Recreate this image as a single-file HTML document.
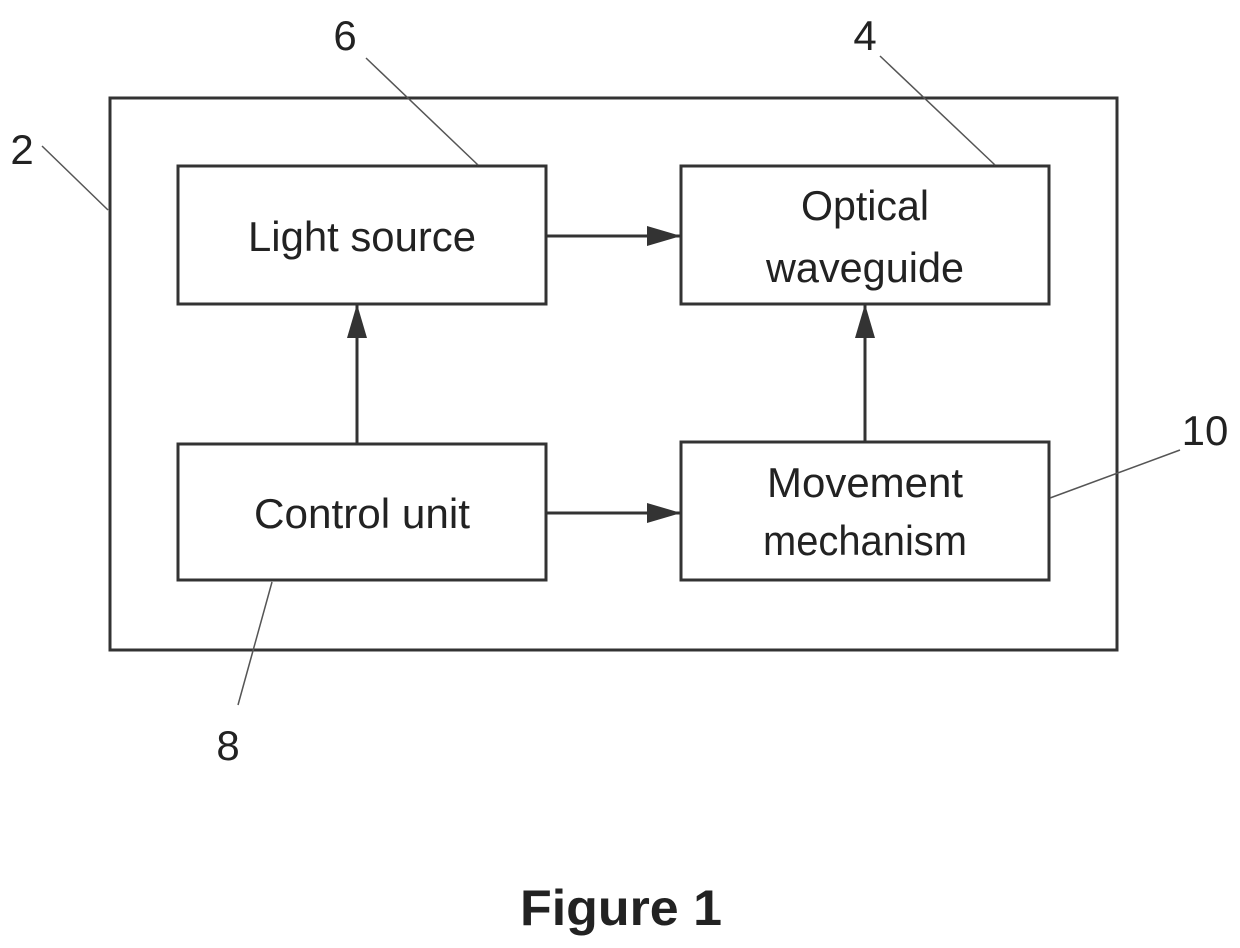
<!DOCTYPE html>
<html><head><style>
html,body{margin:0;padding:0;background:#fff;}
svg{display:block;}
text{font-family:"Liberation Sans",Arial,sans-serif;fill:#222;}
</style></head><body>
<svg width="1240" height="948" viewBox="0 0 1240 948" xmlns="http://www.w3.org/2000/svg">
<defs>
<marker id="b" viewBox="0 0 34 20" markerWidth="34" markerHeight="20" refX="34" refY="10" orient="auto" markerUnits="userSpaceOnUse"><path d="M0,0 L34,10 L0,20 z" fill="#333"/></marker></defs>
<g stroke="#333" stroke-width="3" fill="none">
<rect x="110" y="98" width="1007" height="552"/>
<rect x="178" y="166" width="368" height="138"/>
<rect x="681" y="166" width="368" height="138"/>
<rect x="178" y="444" width="368" height="136"/>
<rect x="681" y="442" width="368" height="138"/>
<line x1="546" y1="236" x2="681" y2="236" marker-end="url(#b)"/>
<line x1="546" y1="513" x2="681" y2="513" marker-end="url(#b)"/>
<line x1="357" y1="444" x2="357" y2="304" marker-end="url(#b)"/>
<line x1="865" y1="442" x2="865" y2="304" marker-end="url(#b)"/>
</g>
<g stroke="#555" stroke-width="1.5">
<line x1="42" y1="146" x2="108" y2="210"/>
<line x1="366" y1="58" x2="478" y2="165"/>
<line x1="880" y1="56" x2="995" y2="165"/>
<line x1="1180" y1="450" x2="1050" y2="498"/>
<line x1="238" y1="705" x2="272" y2="582"/>
</g>
<g font-size="42" text-anchor="middle">
<text x="362" y="251" textLength="228" lengthAdjust="spacingAndGlyphs">Light source</text>
<text x="865" y="220" textLength="128" lengthAdjust="spacingAndGlyphs">Optical</text>
<text x="865" y="282" textLength="198" lengthAdjust="spacingAndGlyphs">waveguide</text>
<text x="362" y="528" textLength="216" lengthAdjust="spacingAndGlyphs">Control unit</text>
<text x="865" y="497" textLength="196" lengthAdjust="spacingAndGlyphs">Movement</text>
<text x="865" y="555" textLength="204" lengthAdjust="spacingAndGlyphs">mechanism</text>
<text x="22" y="164">2</text>
<text x="345" y="50">6</text>
<text x="865" y="50">4</text>
<text x="1205" y="445">10</text>
<text x="228" y="760">8</text>
<text x="621" y="925" font-size="50" font-weight="bold" textLength="202" lengthAdjust="spacingAndGlyphs">Figure 1</text>
</g>
</svg>
</body></html>
